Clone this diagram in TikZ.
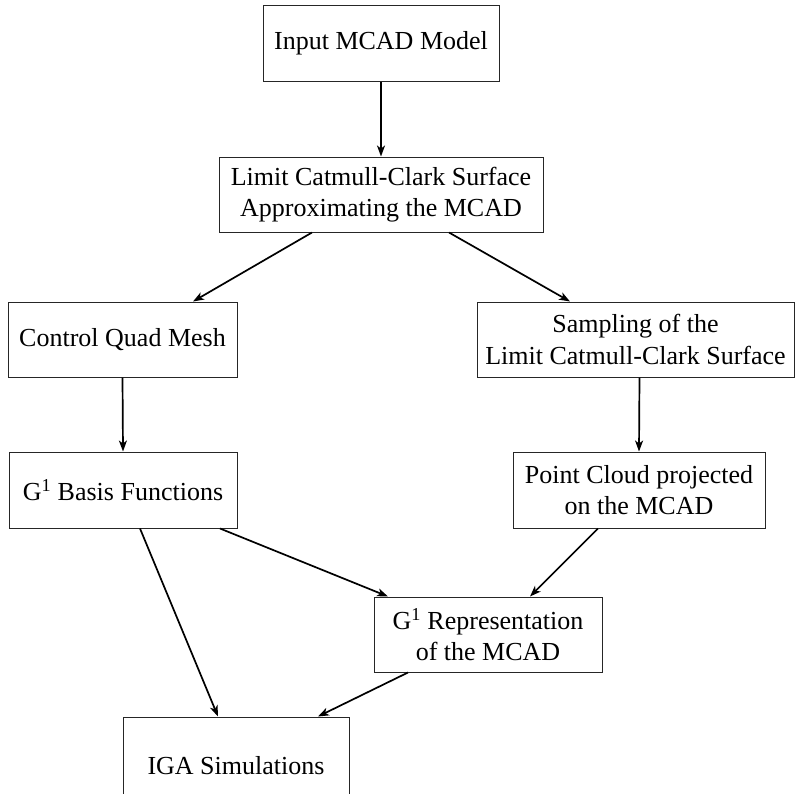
\documentclass[tikz,border=0pt]{standalone}
\usepackage{fontspec}
\setmainfont{Liberation Serif}
\usetikzlibrary{arrows.meta}
\begin{document}
\begin{tikzpicture}[x=1pt,y=-1pt,
  box/.style={draw=black!85, line width=1pt, inner sep=0pt, align=center,
    font=\fontsize{26}{31.5}\selectfont},
  arr/.style={line width=1.7pt, -{Stealth[length=11pt,width=8pt,inset=3pt]}}]
\useasboundingbox (0,0) rectangle (795,793);
\node[box, minimum width=236pt, minimum height=76pt] (in) at (381,43) {Input MCAD Model};
\node[box, minimum width=324pt, minimum height=75pt] (lim) at (381,194.5) {Limit Catmull-Clark Surface\\Approximating the MCAD};
\node[box, minimum width=229pt, minimum height=75pt] (ctrl) at (122.5,339.5) {Control Quad Mesh};
\node[box, minimum width=317pt, minimum height=75pt] (samp) at (635.5,339.5) {Sampling of the\\Limit Catmull-Clark Surface};
\node[box, minimum width=228pt, minimum height=76pt] (basis) at (123,490) {G\textsuperscript{1} Basis Functions};
\node[box, minimum width=252pt, minimum height=76pt] (pc) at (639,490) {Point Cloud projected\\on the MCAD};
\node[box, minimum width=228pt, minimum height=75pt] (rep) at (488,634.5) {G\textsuperscript{1} Representation\\of the MCAD};
\node[box, minimum width=226pt, minimum height=97pt] (iga) at (236,765.5) {IGA Simulations};
\draw[arr] (in.south) -- (lim.north);
\draw[arr] ([xshift=-69pt]lim.south) -- ([xshift=70.5pt]ctrl.north);
\draw[arr] ([xshift=68pt]lim.south) -- ([xshift=-65.5pt]samp.north);
\draw[arr] (ctrl.south) -- (basis.north);
\draw[arr] ([xshift=4pt]samp.south) -- (pc.north);
\draw[arr] ([xshift=17pt]basis.south) -- ([xshift=-18pt]iga.north);
\draw[arr] ([xshift=97pt]basis.south) -- ([xshift=-100pt]rep.north);
\draw[arr] ([xshift=-41pt]pc.south) -- ([xshift=42pt]rep.north);
\draw[arr] ([xshift=-80pt]rep.south) -- ([xshift=82pt]iga.north);
\end{tikzpicture}
\end{document}
